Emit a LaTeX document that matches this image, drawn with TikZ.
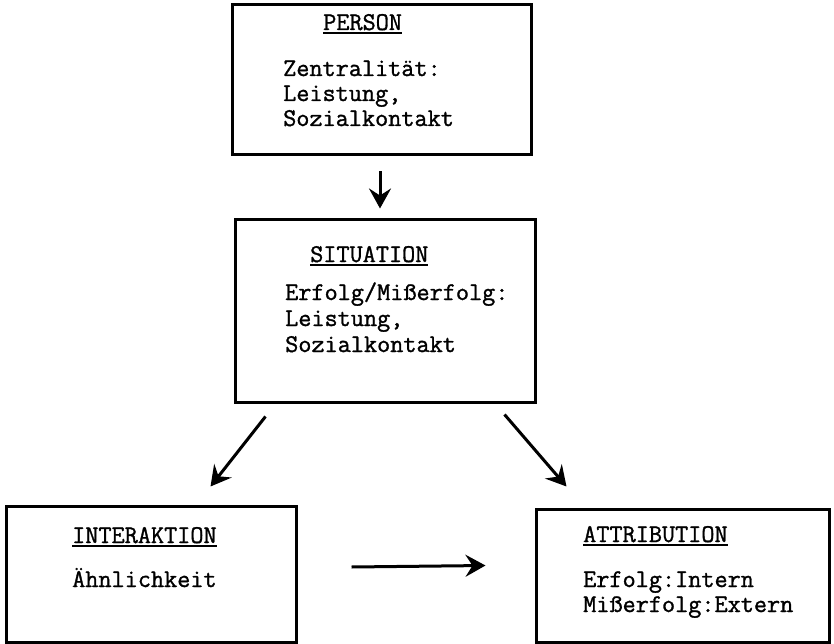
\documentclass[tikz,border=0pt]{standalone}
\usepackage{fontspec}
\setmonofont[FakeBold=1.2]{Latin Modern Mono}
\usetikzlibrary{arrows.meta}
\newcommand\ulx[1]{\setbox0\hbox{#1}\rlap{\rule[-4pt]{\wd0}{1.6pt}}\box0}
\begin{document}
\begin{tikzpicture}[x=1pt,y=-1pt,
  boxnode/.style={draw,line width=3pt,rectangle,inner sep=0pt},
  txt/.style={anchor=base west,inner sep=0pt,
    font=\ttfamily\fontsize{25.5}{25}\selectfont},
  arr/.style={line width=3pt,-{Stealth[length=20pt,width=22pt,inset=7pt]}}]
\useasboundingbox (0,0) rectangle (834,644);
% boxes
\node[boxnode,minimum width=299pt,minimum height=150pt] (person) at (381.5,80) {};
\node[boxnode,minimum width=300pt,minimum height=182pt] (situation) at (385,311) {};
\node[boxnode,minimum width=290pt,minimum height=136pt] (interaktion) at (151,574) {};
\node[boxnode,minimum width=293pt,minimum height=133pt] (attribution) at (682.5,575.5) {};
% texts
\node[txt] (t1) at (323,30) {\ulx{PERSON}};
\node[txt] (b1a) at (283,76) {Zentralität:};
\node[txt] (b1b) at (283,101) {Leistung,};
\node[txt] (b1c) at (283,126) {Sozialkontakt};
\node[txt] (t2) at (310,262) {\ulx{SITUATION}};
\node[txt] (b2a) at (285,300) {Erfolg/Mißerfolg:};
\node[txt] (b2b) at (285,326) {Leistung,};
\node[txt] (b2c) at (285,352) {Sozialkontakt};
\node[txt] (t3) at (72,543) {\ulx{INTERAKTION}};
\node[txt] (b3) at (72,587) {Ähnlichkeit};
\node[txt] (t4) at (583,542) {\ulx{ATTRIBUTION}};
\node[txt] (b4a) at (583,587) {Erfolg:Intern};
\node[txt] (b4b) at (583,612) {Mißerfolg:Extern};
% arrows
\draw[arr] ([shift={(-1.5,15)}]person.south) -- ([shift={(-5,-10)}]situation.north);
\draw[arr] ([shift={(32,13)}]situation.south west) -- ([shift={(206,-18)}]interaktion.north west);
\draw[arr] ([shift={(-32,11)}]situation.south east) -- ([shift={(32,-21)}]attribution.north west);
\draw[arr] ([shift={(54,-7)}]interaktion.east) -- ([shift={(-49,-10)}]attribution.west);
\end{tikzpicture}
\end{document}
